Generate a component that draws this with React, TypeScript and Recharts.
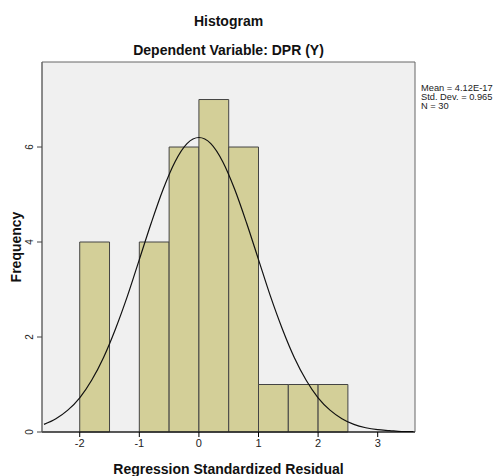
import React from 'react';
import { ComposedChart, Line, XAxis, YAxis, CartesianGrid, ReferenceArea } from 'recharts';

// histogram bins (width 0.5) and counts
const binStarts = [-2.0, -1.5, -1.0, -0.5, 0.0, 0.5, 1.0, 1.5, 2.0];
const binEnds = [-1.5, -1.0, -0.5, 0.0, 0.5, 1.0, 1.5, 2.0, 2.5];
const binCounts = [4, 0, 4, 6, 7, 6, 1, 1, 1];

// normal curve
const curveX = [-2.6, -2.4, -2.2, -2.0, -1.8, -1.6, -1.4, -1.2, -1.0, -0.8, -0.6, -0.4, -0.2, 0, 0.2, 0.4, 0.6, 0.8, 1.0, 1.2, 1.4, 1.6, 1.8, 2.0, 2.2, 2.4, 2.6, 2.8, 3.0, 3.2, 3.4, 3.6];
const curveY = [0.16, 0.28, 0.46, 0.72, 1.09, 1.57, 2.17, 2.86, 3.63, 4.4, 5.11, 5.69, 6.07, 6.2, 6.07, 5.69, 5.11, 4.4, 3.63, 2.86, 2.17, 1.57, 1.09, 0.72, 0.46, 0.28, 0.16, 0.09, 0.05, 0.03, 0.01, 0.01];

const xTicks = [-2, -1, 0, 1, 2, 3];
const yTicks = [0, 2, 4, 6];
const xDomain = [-2.633, 3.626];
const yDomain = [0, 7.79];

const statsLines = ['Mean = 4.12E-17', 'Std. Dev. = 0.965', 'N = 30'];

const curveData = curveX.map((x, i) => ({ x, y: curveY[i] }));

const font = '"Liberation Sans", Arial, sans-serif';

const YTick = (props: any) => {
  const { x, y, payload } = props;
  return (
    <text x={x - 2} y={y} transform={`rotate(-90 ${x - 2} ${y})`} textAnchor="middle" fontSize={10} fill="#222" fontFamily={font}>
      {payload.value}
    </text>
  );
};

export default function App() {
  return (
    <div style={{ position: 'absolute', left: 0, top: 0, width: 496, height: 476, background: '#fff', fontFamily: font }}>
      <div style={{ position: 'absolute', left: 0, width: 457, top: 13, textAlign: 'center', fontSize: 14, fontWeight: 'bold', color: '#111' }}>
        Histogram
      </div>
      <div style={{ position: 'absolute', left: 0, width: 457, top: 42, textAlign: 'center', fontSize: 14, fontWeight: 'bold', color: '#111' }}>
        Dependent Variable: DPR (Y)
      </div>
      <div style={{ position: 'absolute', left: 421, top: 84, fontSize: 9.3, lineHeight: '9px', color: '#222', whiteSpace: 'nowrap' }}>
        {statsLines.map(s => <div key={s} style={{ height: 9 }}>{s}</div>)}
      </div>
      <ComposedChart width={496} height={476} data={curveData} margin={{ top: 62, right: 81, left: 0, bottom: 0 }}>
        <CartesianGrid fill="#f0f0f0" horizontal={false} vertical={false} />
        <XAxis dataKey="x" type="number" domain={xDomain} allowDataOverflow ticks={xTicks} height={44}
          stroke="#000" tickSize={5} tick={{ fontSize: 11, fill: '#222', fontFamily: font }} tickLine={{ stroke: '#000' }}
          label={{ value: 'Regression Standardized Residual', position: 'insideBottom', offset: 2, style: { fontSize: 14, fontWeight: 'bold', fill: '#111', fontFamily: font } }} />
        <YAxis type="number" domain={yDomain} allowDataOverflow ticks={yTicks} width={42} stroke="#666" tickSize={5}
          tick={<YTick />} tickLine={{ stroke: '#444' }}
          label={{ value: 'Frequency', angle: -90, position: 'insideLeft', offset: 16, style: { textAnchor: 'middle', fontSize: 14, fontWeight: 'bold', fill: '#111', fontFamily: font } }} />
        {binCounts.map((c, i) => c > 0 ? (
          <ReferenceArea key={i} x1={binStarts[i]} x2={binEnds[i]} y1={0} y2={c} fill="#d3cf98" fillOpacity={1} stroke="#444" strokeWidth={1} />
        ) : null)}
        <ReferenceArea x1={xDomain[0]} x2={xDomain[1]} y1={yDomain[0]} y2={yDomain[1]} fill="none" fillOpacity={0} stroke="#666" strokeWidth={1} />
        <Line dataKey="y" type="monotone" stroke="#111" strokeWidth={1.2} dot={false} isAnimationActive={false} />
      </ComposedChart>
    </div>
  );
}
